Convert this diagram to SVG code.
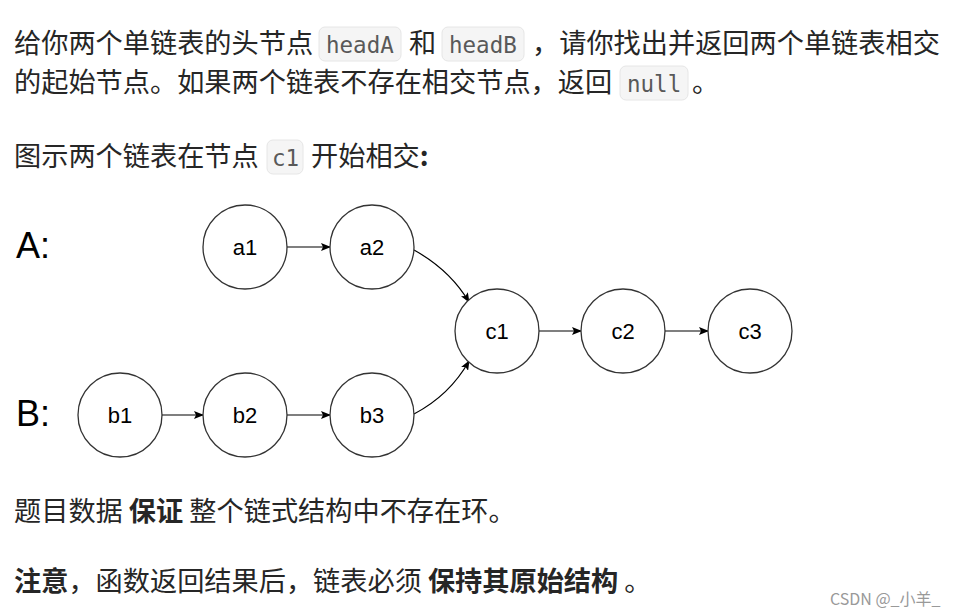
<svg xmlns="http://www.w3.org/2000/svg" width="962" height="616" viewBox="0 0 962 616">
<style>
.t{font-family:"Noto Sans CJK SC","Noto Sans",sans-serif;font-size:27.2px;fill:#262626}
.b{font-weight:bold}
.c{font-family:"DejaVu Sans Mono",monospace;font-size:22.5px;fill:#595959}
.cb{fill:#f5f5f5;stroke:#e6e6e6;stroke-width:1}
.n circle{fill:#fff;stroke:#333;stroke-width:1.3}
.n text{font-family:"Liberation Sans",Arial,sans-serif;font-size:22px;fill:#000;text-anchor:middle}
.e{fill:none;stroke:#000;stroke-width:1.2;marker-end:url(#ar)}
.lab{font-family:"Liberation Sans",Arial,sans-serif;font-size:36px;fill:#000}
.wm{font-family:"Noto Sans CJK SC",sans-serif;font-size:16px;fill:#999}
</style>
<defs><marker id="ar" markerWidth="10" markerHeight="8" refX="9" refY="4" orient="auto" markerUnits="userSpaceOnUse"><path d="M0,0 L10,4 L0,8 L2,4 Z" fill="#000"/></marker></defs>
<rect width="962" height="616" fill="#fff"/>
<rect class="cb" x="319" y="27" width="82" height="34" rx="6"/>
<rect class="cb" x="442" y="27" width="82" height="34" rx="6"/>
<rect class="cb" x="620" y="66" width="68" height="34" rx="6"/>
<rect class="cb" x="267" y="140" width="36" height="34" rx="6"/>
<text class="t" x="14" y="53">给你两个单链表的头节点<tspan class="c" x="326">headA</tspan><tspan x="409">和</tspan><tspan class="c" x="449">headB</tspan><tspan x="532">，请你找出并返回两个单链表相交</tspan></text>
<text class="t" x="14" y="92">的起始节点。如果两个链表不存在相交节点，返回<tspan class="c" x="627">null</tspan><tspan x="692">。</tspan></text>
<text class="t" x="14" y="166">图示两个链表在节点<tspan class="c" x="272">c1</tspan><tspan x="311">开始相交</tspan><tspan class="b">:</tspan></text>
<text class="lab" x="16" y="258">A:</text>
<text class="lab" x="16" y="426">B:</text>
<g id="edges">
<path class="e" d="M287,247 L330,247"/>
<path class="e" d="M162,415 L203,415"/>
<path class="e" d="M287,415 L330,415"/>
<path class="e" d="M539,331 L581,331"/>
<path class="e" d="M665,331 L708,331"/>
<path class="e" d="M414,250 Q450,270 469,302"/>
<path class="e" d="M414,414 Q450,395 469,361"/>
</g>
<g id="a1" class="n"><circle cx="245" cy="247" r="42"/><text x="245" y="255">a1</text></g>
<g id="a2" class="n"><circle cx="372" cy="247" r="42"/><text x="372" y="255">a2</text></g>
<g id="c1" class="n"><circle cx="497" cy="331" r="42"/><text x="497" y="339">c1</text></g>
<g id="c2" class="n"><circle cx="623" cy="331" r="42"/><text x="623" y="339">c2</text></g>
<g id="c3" class="n"><circle cx="750" cy="331" r="42"/><text x="750" y="339">c3</text></g>
<g id="b1" class="n"><circle cx="120" cy="415" r="42"/><text x="120" y="423">b1</text></g>
<g id="b2" class="n"><circle cx="245" cy="415" r="42"/><text x="245" y="423">b2</text></g>
<g id="b3" class="n"><circle cx="372" cy="415" r="42"/><text x="372" y="423">b3</text></g>
<text class="t" x="14" y="521">题目数据 <tspan class="b">保证</tspan> 整个链式结构中不存在环。</text>
<text class="t" x="14" y="591"><tspan class="b">注意</tspan>，函数返回结果后，链表必须 <tspan class="b">保持其原始结构</tspan> 。</text>
<text class="wm" x="830" y="605">CSDN @_小羊_</text>
</svg>
